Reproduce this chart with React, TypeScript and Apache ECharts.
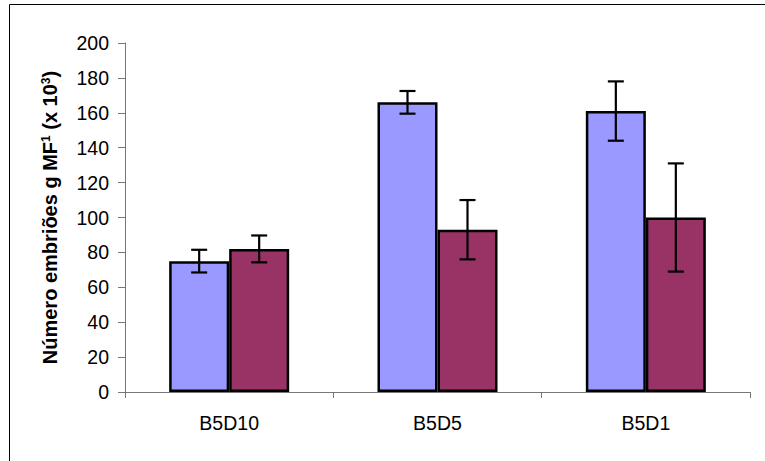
import React, { useEffect, useRef } from "react";
import * as echarts from "echarts";

const categories = ["B5D10", "B5D5", "B5D1"];
const blueValues = [75, 166, 161];
const blueErrors = [6.5, 6.5, 17];
const redValues = [82, 93, 100];
const redErrors = [7.7, 17, 31];
const yTicks = { min: 0, max: 200, interval: 20 };

const BAR_W = 60;
const FONT = "'Liberation Sans', Arial, sans-serif";

function errorSeries(values: number[], errors: number[], side: number) {
  return {
    type: "custom",
    z: 5,
    silent: true,
    data: values.map((v, i) => [i, v, errors[i]]),
    renderItem: (params: any, api: any) => {
      const idx = api.value(0);
      const v = api.value(1);
      const e = api.value(2);
      const top = api.coord([idx, v + e]);
      const bot = api.coord([idx, v - e]);
      const x = top[0] + (side * BAR_W) / 2;
      const cap = 8;
      const style = { stroke: "#000", lineWidth: 2.2 };
      return {
        type: "group",
        children: [
          { type: "line", shape: { x1: x, y1: top[1], x2: x, y2: bot[1] }, style },
          { type: "line", shape: { x1: x - cap, y1: top[1], x2: x + cap, y2: top[1] }, style },
          { type: "line", shape: { x1: x - cap, y1: bot[1], x2: x + cap, y2: bot[1] }, style },
        ],
      };
    },
  };
}

export default function App() {
  const ref = useRef<HTMLDivElement>(null);
  useEffect(() => {
    document.body.style.margin = "0";
    const chart = echarts.init(ref.current!, null, { renderer: "svg" });
    chart.setOption({
      animation: false,
      backgroundColor: "#fff",
      graphic: [
        {
          type: "rect",
          shape: { x: 9.5, y: 4.5, width: 800, height: 500 },
          style: { fill: "none", stroke: "#000", lineWidth: 1 },
          silent: true,
        },
      ],
      grid: { left: 125, right: 15, top: 43, bottom: 69 },
      xAxis: {
        type: "category",
        data: categories,
        axisLine: { lineStyle: { color: "#777", width: 1 } },
        axisTick: { show: true, length: 6, lineStyle: { color: "#777" } },
        axisLabel: { color: "#000", fontSize: 19.5, fontFamily: FONT, margin: 21 },
        splitLine: { show: false },
      },
      yAxis: {
        type: "value",
        min: yTicks.min,
        max: yTicks.max,
        interval: yTicks.interval,
        name: "{b|Número embriões g MF}{sup|1}{b| (x 10}{sup|3}{b|)}",
        nameLocation: "middle",
        nameGap: 65,
        nameRotate: 90,
        nameTextStyle: {
          rich: {
            b: { fontSize: 20, fontWeight: "bold", fontFamily: FONT, color: "#000" },
            sup: {
              fontSize: 12,
              fontWeight: "bold",
              fontFamily: FONT,
              color: "#000",
              verticalAlign: "top",
              padding: [0, 0, 8, 0],
            },
          },
        },
        axisLine: { show: true, lineStyle: { color: "#777", width: 1 } },
        axisTick: { show: true, length: 7, lineStyle: { color: "#777" } },
        axisLabel: { color: "#000", fontSize: 19.5, fontFamily: FONT, margin: 16 },
        splitLine: { show: false },
      },
      series: [
        {
          type: "bar",
          data: blueValues,
          barWidth: BAR_W,
          barGap: "0%",
          itemStyle: { color: "#9999FF", borderColor: "#000", borderWidth: 2.5 },
        },
        {
          type: "bar",
          data: redValues,
          barWidth: BAR_W,
          barGap: "0%",
          itemStyle: { color: "#993366", borderColor: "#000", borderWidth: 2.5 },
        },
        errorSeries(blueValues, blueErrors, -1),
        errorSeries(redValues, redErrors, 1),
      ],
    });
    return () => chart.dispose();
  }, []);
  return <div ref={ref} style={{ width: 765, height: 461 }} />;
}
